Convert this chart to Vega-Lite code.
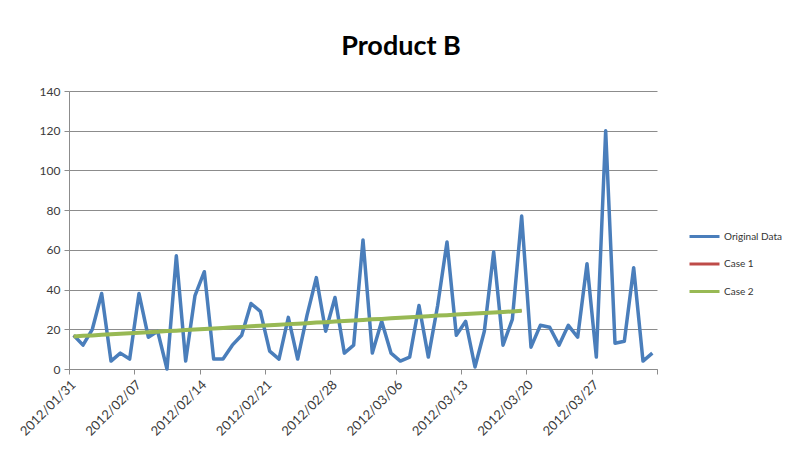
{
  "$schema": "https://vega.github.io/schema/vega-lite/v6.json",
  "autosize": "none",
  "width": 588,
  "height": 278,
  "padding": {"left": 69, "top": 91, "right": 134, "bottom": 83},
  "background": "white",
  "title": {
    "text": "Product B",
    "font": "Lato",
    "fontSize": 27,
    "fontWeight": "bold",
    "color": "#000000",
    "anchor": "middle",
    "dx": 38,
    "offset": 24
  },
  "data": {
    "values": [
      {"date": "2012/01/31", "Original Data": 17, "Case 1": 16.4, "Case 2": 16.4},
      {"date": "2012/02/01", "Original Data": 12, "Case 1": 16.7, "Case 2": 16.7},
      {"date": "2012/02/02", "Original Data": 20, "Case 1": 16.9, "Case 2": 16.9},
      {"date": "2012/02/03", "Original Data": 38, "Case 1": 17.2, "Case 2": 17.2},
      {"date": "2012/02/04", "Original Data": 4, "Case 1": 17.5, "Case 2": 17.5},
      {"date": "2012/02/05", "Original Data": 8, "Case 1": 17.7, "Case 2": 17.7},
      {"date": "2012/02/06", "Original Data": 5, "Case 1": 18.0, "Case 2": 18.0},
      {"date": "2012/02/07", "Original Data": 38, "Case 1": 18.3, "Case 2": 18.3},
      {"date": "2012/02/08", "Original Data": 16, "Case 1": 18.5, "Case 2": 18.5},
      {"date": "2012/02/09", "Original Data": 19, "Case 1": 18.8, "Case 2": 18.8},
      {"date": "2012/02/10", "Original Data": 0, "Case 1": 19.1, "Case 2": 19.1},
      {"date": "2012/02/11", "Original Data": 57, "Case 1": 19.3, "Case 2": 19.3},
      {"date": "2012/02/12", "Original Data": 4, "Case 1": 19.6, "Case 2": 19.6},
      {"date": "2012/02/13", "Original Data": 37, "Case 1": 19.9, "Case 2": 19.9},
      {"date": "2012/02/14", "Original Data": 49, "Case 1": 20.2, "Case 2": 20.2},
      {"date": "2012/02/15", "Original Data": 5, "Case 1": 20.4, "Case 2": 20.4},
      {"date": "2012/02/16", "Original Data": 5, "Case 1": 20.7, "Case 2": 20.7},
      {"date": "2012/02/17", "Original Data": 12, "Case 1": 21.0, "Case 2": 21.0},
      {"date": "2012/02/18", "Original Data": 17, "Case 1": 21.2, "Case 2": 21.2},
      {"date": "2012/02/19", "Original Data": 33, "Case 1": 21.5, "Case 2": 21.5},
      {"date": "2012/02/20", "Original Data": 29, "Case 1": 21.8, "Case 2": 21.8},
      {"date": "2012/02/21", "Original Data": 9, "Case 1": 22.0, "Case 2": 22.0},
      {"date": "2012/02/22", "Original Data": 5, "Case 1": 22.3, "Case 2": 22.3},
      {"date": "2012/02/23", "Original Data": 26, "Case 1": 22.6, "Case 2": 22.6},
      {"date": "2012/02/24", "Original Data": 5, "Case 1": 22.8, "Case 2": 22.8},
      {"date": "2012/02/25", "Original Data": 27, "Case 1": 23.1, "Case 2": 23.1},
      {"date": "2012/02/26", "Original Data": 46, "Case 1": 23.4, "Case 2": 23.4},
      {"date": "2012/02/27", "Original Data": 19, "Case 1": 23.6, "Case 2": 23.6},
      {"date": "2012/02/28", "Original Data": 36, "Case 1": 23.9, "Case 2": 23.9},
      {"date": "2012/02/29", "Original Data": 8, "Case 1": 24.2, "Case 2": 24.2},
      {"date": "2012/03/01", "Original Data": 12, "Case 1": 24.4, "Case 2": 24.4},
      {"date": "2012/03/02", "Original Data": 65, "Case 1": 24.7, "Case 2": 24.7},
      {"date": "2012/03/03", "Original Data": 8, "Case 1": 25.0, "Case 2": 25.0},
      {"date": "2012/03/04", "Original Data": 24, "Case 1": 25.2, "Case 2": 25.2},
      {"date": "2012/03/05", "Original Data": 8, "Case 1": 25.5, "Case 2": 25.5},
      {"date": "2012/03/06", "Original Data": 4, "Case 1": 25.8, "Case 2": 25.8},
      {"date": "2012/03/07", "Original Data": 6, "Case 1": 26.0, "Case 2": 26.0},
      {"date": "2012/03/08", "Original Data": 32, "Case 1": 26.3, "Case 2": 26.3},
      {"date": "2012/03/09", "Original Data": 6, "Case 1": 26.6, "Case 2": 26.6},
      {"date": "2012/03/10", "Original Data": 32, "Case 1": 26.9, "Case 2": 26.9},
      {"date": "2012/03/11", "Original Data": 64, "Case 1": 27.1, "Case 2": 27.1},
      {"date": "2012/03/12", "Original Data": 17, "Case 1": 27.4, "Case 2": 27.4},
      {"date": "2012/03/13", "Original Data": 24, "Case 1": 27.7, "Case 2": 27.7},
      {"date": "2012/03/14", "Original Data": 1, "Case 1": 27.9, "Case 2": 27.9},
      {"date": "2012/03/15", "Original Data": 19, "Case 1": 28.2, "Case 2": 28.2},
      {"date": "2012/03/16", "Original Data": 59, "Case 1": 28.5, "Case 2": 28.5},
      {"date": "2012/03/17", "Original Data": 12, "Case 1": 28.7, "Case 2": 28.7},
      {"date": "2012/03/18", "Original Data": 25, "Case 1": 29.0, "Case 2": 29.0},
      {"date": "2012/03/19", "Original Data": 77, "Case 1": 29.3, "Case 2": 29.3},
      {"date": "2012/03/20", "Original Data": 11},
      {"date": "2012/03/21", "Original Data": 22},
      {"date": "2012/03/22", "Original Data": 21},
      {"date": "2012/03/23", "Original Data": 12},
      {"date": "2012/03/24", "Original Data": 22},
      {"date": "2012/03/25", "Original Data": 16},
      {"date": "2012/03/26", "Original Data": 53},
      {"date": "2012/03/27", "Original Data": 6},
      {"date": "2012/03/28", "Original Data": 120},
      {"date": "2012/03/29", "Original Data": 13},
      {"date": "2012/03/30", "Original Data": 14},
      {"date": "2012/03/31", "Original Data": 51},
      {"date": "2012/04/01", "Original Data": 4},
      {"date": "2012/04/02", "Original Data": 8}
    ]
  },
  "transform": [
    {"fold": ["Original Data", "Case 1", "Case 2"], "as": ["series", "value"]}
  ],
  "encoding": {
    "x": {
      "field": "date",
      "type": "temporal",
      "timeUnit": "yearmonthdate",
      "bandPosition": 0.5,
      "scale": {
        "domain": [
          {"year": 2012, "month": 1, "date": 31},
          {"year": 2012, "month": 4, "date": 3}
        ],
        "nice": false
      },
      "axis": {
        "title": null,
        "grid": false,
        "values": [
          {"year": 2012, "month": 1, "date": 31},
          {"year": 2012, "month": 2, "date": 7},
          {"year": 2012, "month": 2, "date": 14},
          {"year": 2012, "month": 2, "date": 21},
          {"year": 2012, "month": 2, "date": 28},
          {"year": 2012, "month": 3, "date": 6},
          {"year": 2012, "month": 3, "date": 13},
          {"year": 2012, "month": 3, "date": 20},
          {"year": 2012, "month": 3, "date": 27},
          {"year": 2012, "month": 4, "date": 3}
        ],
        "labelExpr": "datum.value >= datetime(2012, 3, 2) ? '' : timeFormat(datum.value, '%Y/%m/%d')",
        "labelAngle": -45,
        "labelAlign": "right",
        "labelBaseline": "top",
        "labelFont": "Lato",
        "labelFontSize": 13,
        "labelColor": "#3a3a3a",
        "labelPadding": 4,
        "labelDy": 2,
        "labelOverlap": false,
        "labelBound": false,
        "labelFlush": false,
        "domainColor": "#8c8c8c",
        "tickColor": "#8c8c8c",
        "tickSize": 5
      }
    },
    "y": {
      "field": "value",
      "type": "quantitative",
      "scale": {"domain": [0, 140], "nice": false},
      "axis": {
        "title": null,
        "values": [0, 20, 40, 60, 80, 100, 120, 140],
        "labelFont": "Lato",
        "labelFontSize": 12,
        "labelColor": "#3a3a3a",
        "labelPadding": 4,
        "domainColor": "#8c8c8c",
        "tickColor": "#8c8c8c",
        "tickSize": 5,
        "gridColor": "#8c8c8c",
        "gridWidth": 1
      }
    },
    "color": {
      "field": "series",
      "type": "nominal",
      "scale": {
        "domain": ["Original Data", "Case 1", "Case 2"],
        "range": ["#4A7EBB", "#BE4B48", "#98B954"]
      },
      "legend": {
        "title": null,
        "orient": "none",
        "legendX": 619,
        "legendY": 129,
        "symbolType": "stroke",
        "symbolSize": 900,
        "symbolStrokeWidth": 3,
        "labelFont": "Lato",
        "labelFontSize": 10,
        "labelColor": "#333333",
        "labelOffset": 3,
        "rowPadding": 4.5
      }
    }
  },
  "layer": [
    {
      "transform": [{"filter": "datum.series === 'Original Data'"}],
      "mark": {"type": "line", "strokeWidth": 3.5, "strokeJoin": "round"}
    },
    {
      "transform": [{"filter": "datum.series === 'Case 1'"}],
      "mark": {"type": "line", "strokeWidth": 2.5, "strokeJoin": "round"}
    },
    {
      "transform": [{"filter": "datum.series === 'Case 2'"}],
      "mark": {"type": "line", "strokeWidth": 4, "strokeJoin": "round"}
    }
  ],
  "config": {
    "view": {"stroke": null}
  }
}
